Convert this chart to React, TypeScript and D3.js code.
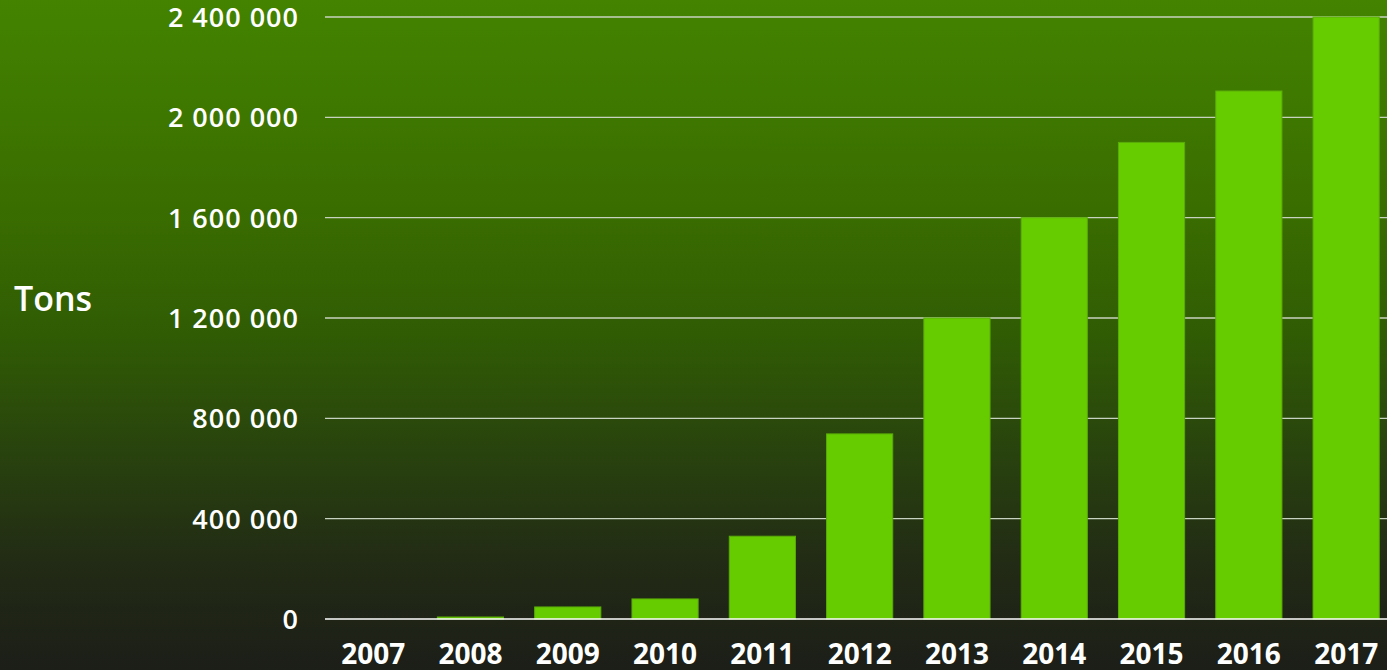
import React from "react";
import * as d3 from "d3";

const years = ["2007","2008","2009","2010","2011","2012","2013","2014","2015","2016","2017"];
const tons = [0, 8000, 48000, 80000, 330000, 738000, 1200000, 1600000, 1900000, 2105000, 2400000];
const yTicks = [0, 400000, 800000, 1200000, 1600000, 2000000, 2400000];

const W = 1387, H = 670;

export default function App() {
  const x = d3.scaleBand<string>().domain(years).range([324.5, 1394.8]).paddingInner(0.32).paddingOuter(0.16);
  const y = d3.scaleLinear().domain([0, 2400000]).range([619, 17]);
  const fmt = (v: number) => d3.format(",")(v).replace(/,/g, " ");
  const font = "'Open Sans', 'DejaVu Sans', sans-serif";
  return (
    <svg width={W} height={H} style={{ position: "absolute", left: 0, top: 0, display: "block" }}>
      <defs>
        <linearGradient id="bg" x1="0" y1="0" x2="0" y2="1">
          <stop offset="0" stopColor="#438300" />
          <stop offset="0.3" stopColor="#3a6e00" />
          <stop offset="0.5" stopColor="#305c04" />
          <stop offset="0.68" stopColor="#28420e" />
          <stop offset="0.84" stopColor="#222b15" />
          <stop offset="1" stopColor="#1c1e18" />
        </linearGradient>
      </defs>
      <rect x={0} y={0} width={W} height={H} fill="url(#bg)" />
      {yTicks.filter(t => t > 0).map(t => (
        <line key={t} x1={325} x2={W} y1={y(t)} y2={y(t)} stroke="#c8d2c0" strokeWidth={1.3} />
      ))}
      {years.map((yr, i) => (
        tons[i] > 0 ? (
          <rect key={yr} x={x(yr)} y={y(tons[i])} width={x.bandwidth()} height={y(0) - y(tons[i])}
            fill="#66cc00" stroke="#5aac08" strokeWidth={1} />
        ) : null
      ))}
      <line x1={325} x2={W} y1={y(0)} y2={y(0)} stroke="#ffffff" strokeWidth={1.5} />
      {yTicks.map(t => (
        <text key={t} x={299} y={y(t) + 10} textAnchor="end" fill="#ffffff" fontFamily={font}
          fontWeight={600} fontSize={27} letterSpacing={1}>{fmt(t)}</text>
      ))}
      {years.map(yr => (
        <text key={yr} x={(x(yr) as number) + x.bandwidth() / 2} y={664} textAnchor="middle" fill="#ffffff"
          fontFamily={font} fontWeight={700} fontSize={28}>{yr}</text>
      ))}
      <text x={14} y={311} fill="#ffffff" fontFamily={font} fontWeight={600} fontSize={34}>Tons</text>
    </svg>
  );
}
